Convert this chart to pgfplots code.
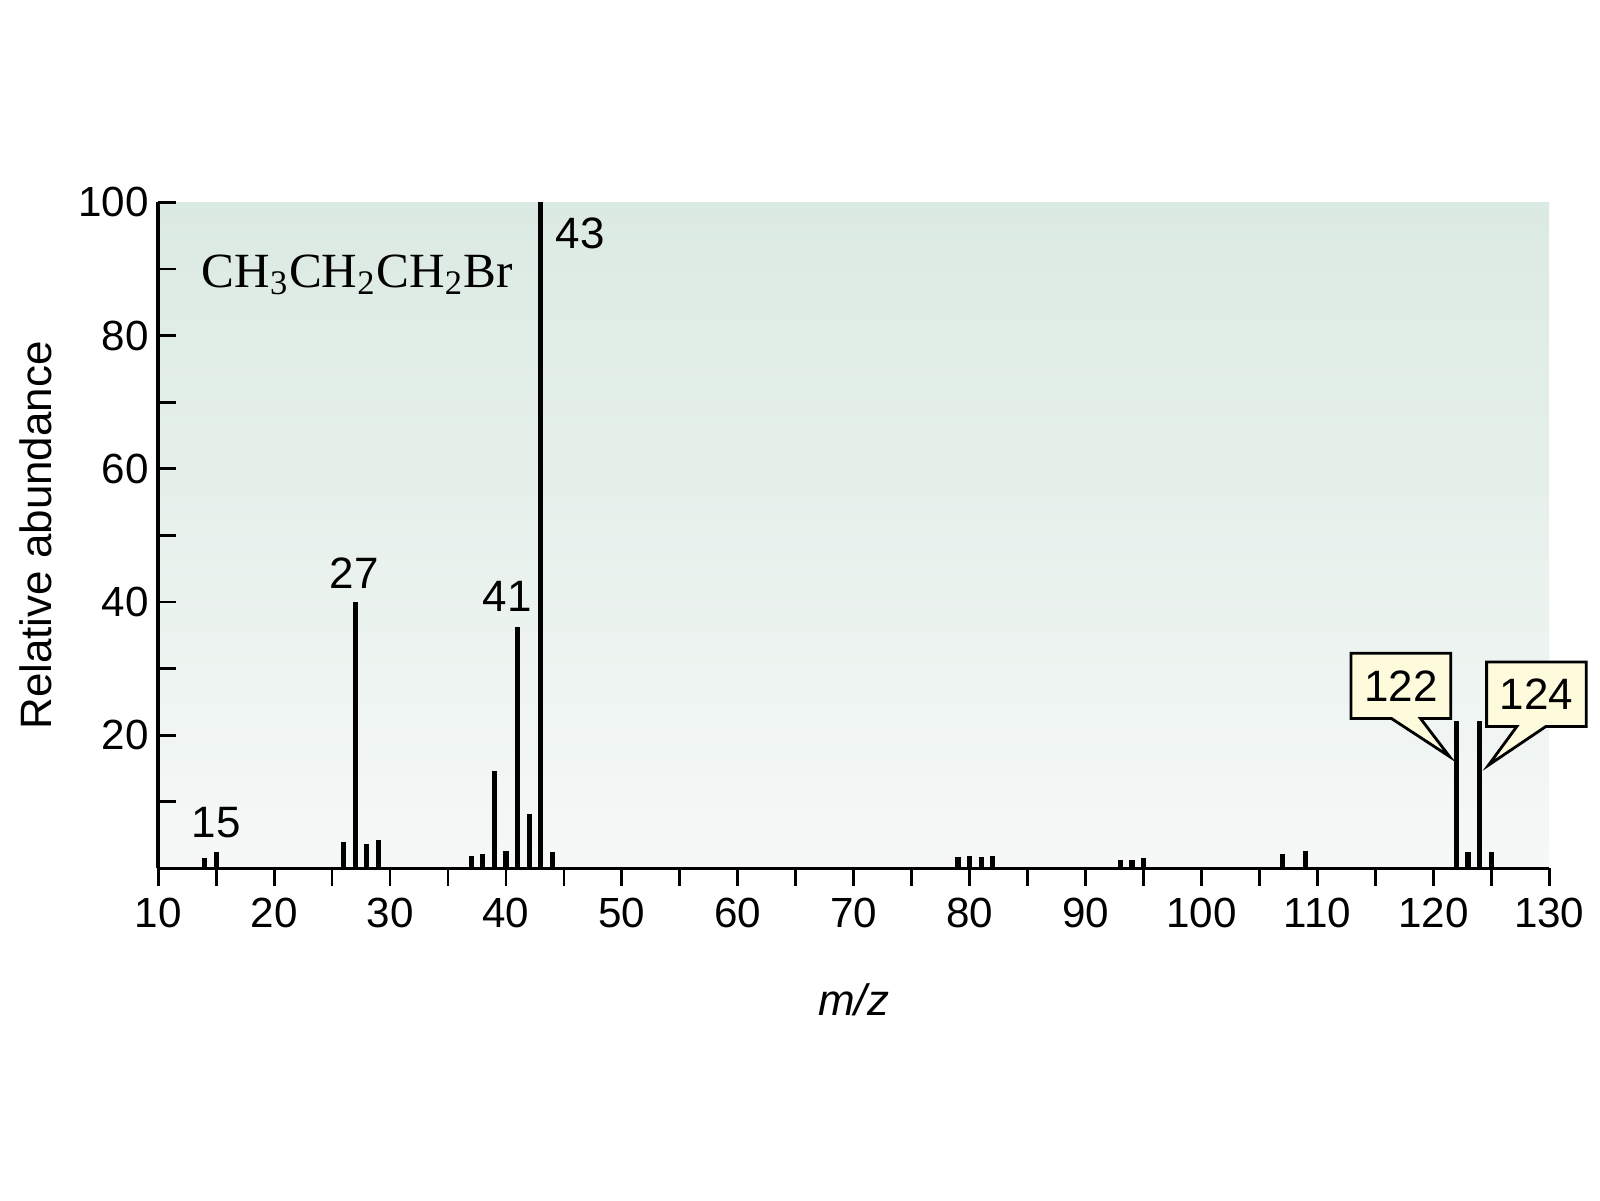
\documentclass[border=0pt]{standalone}
\usepackage{fontspec}
\setmainfont{Liberation Sans}
\newfontfamily\seriffont{Liberation Serif}
\usepackage{pgfplots}
\pgfplotsset{compat=1.18}
\definecolor{bgtop}{RGB}{219,234,226}
\definecolor{bgbot}{RGB}{245,248,247}
\definecolor{callout}{RGB}{253,251,219}
\begin{document}
\begin{tikzpicture}
\useasboundingbox (0,0) rectangle (16,12);
\begin{axis}[
  at={(1.582cm,3.316cm)}, anchor=south west,
  scale only axis, width=13.91cm, height=6.66cm,
  xmin=10, xmax=130, ymin=0, ymax=100,
  axis lines=left, axis line style={line width=1pt, -},
  xtick={10,20,...,130}, minor xtick={15,25,...,125},
  ytick={20,40,...,100}, minor ytick={10,30,...,90},
  x tick style={line width=0.8pt, black}, y tick style={line width=0.8pt, black},
  xtick align=outside, ytick align=inside,
  major tick length=0.175cm, minor tick length=0.175cm,
  tick label style={font=\fontsize{12}{14}\selectfont},
  /pgf/number format/assume math mode=true,
  xticklabel style={yshift=0.0cm},
  yticklabel style={xshift=0.03cm},
  xlabel={\fontsize{12.5}{15}\selectfont\itshape m/z},
  ylabel={\fontsize{12.5}{15}\selectfont Relative abundance},
  xlabel style={at={(axis description cs:0.5,-0.198)}, anchor=center},
  ylabel style={at={(axis description cs:-0.0877,0.5)}, anchor=center},
  clip=false, axis on top,
]
\shade[top color=bgtop, bottom color=bgbot] (axis cs:10,0) rectangle (axis cs:130,100);
\addplot[ycomb, line width=1.5pt, black, mark=none] coordinates {
(14,1.5) (15,2.4)
(26,3.9) (27,40) (28,3.6) (29,4.2)
(37,1.85) (38,2.1) (39,14.6) (40,2.65) (41,36.3) (42,8.2) (43,100) (44,2.5)
(79,1.7) (80,1.85) (81,1.7) (82,1.85)
(93,1.3) (94,1.3) (95,1.5)
(107,2.2) (109,2.6)
(122,22.1) (123,2.5) (124,22.1) (125,2.5)
};
\node[font=\fontsize{12.5}{15}\selectfont] at (axis cs:15,6.9) {15};
\node[font=\fontsize{12.5}{15}\selectfont] at (axis cs:26.9,44.4) {27};
\node[font=\fontsize{12.5}{15}\selectfont] at (axis cs:40.1,40.9) {41};
\node[font=\fontsize{12.5}{15}\selectfont] at (axis cs:46.4,95.3) {43};
\node[anchor=west, font=\seriffont\fontsize{14}{17}\selectfont, inner sep=0pt] at (axis cs:13.7,89.1) {CH\textsubscript{3}CH\textsubscript{2}CH\textsubscript{2}Br};
\draw[fill=callout, line width=0.8pt, line join=miter] (axis cs:112.9,22.5) -- (axis cs:116.4,22.5) -- (axis cs:121.4,16.8) -- (axis cs:118.9,22.5) -- (axis cs:121.5,22.5) -- (axis cs:121.5,32.3) -- (axis cs:112.9,32.3) -- cycle;
\node[font=\fontsize{12.5}{15}\selectfont] at (axis cs:117.2,27.4) {122};
\draw[fill=callout, line width=0.8pt, line join=miter] (axis cs:124.6,21.3) -- (axis cs:127.2,21.3) -- (axis cs:124.76,15.5) -- (axis cs:129.7,21.3) -- (axis cs:133.2,21.3) -- (axis cs:133.2,31.0) -- (axis cs:124.6,31.0) -- cycle;
\node[font=\fontsize{12.5}{15}\selectfont] at (axis cs:128.9,26.2) {124};
\end{axis}
\end{tikzpicture}
\end{document}
